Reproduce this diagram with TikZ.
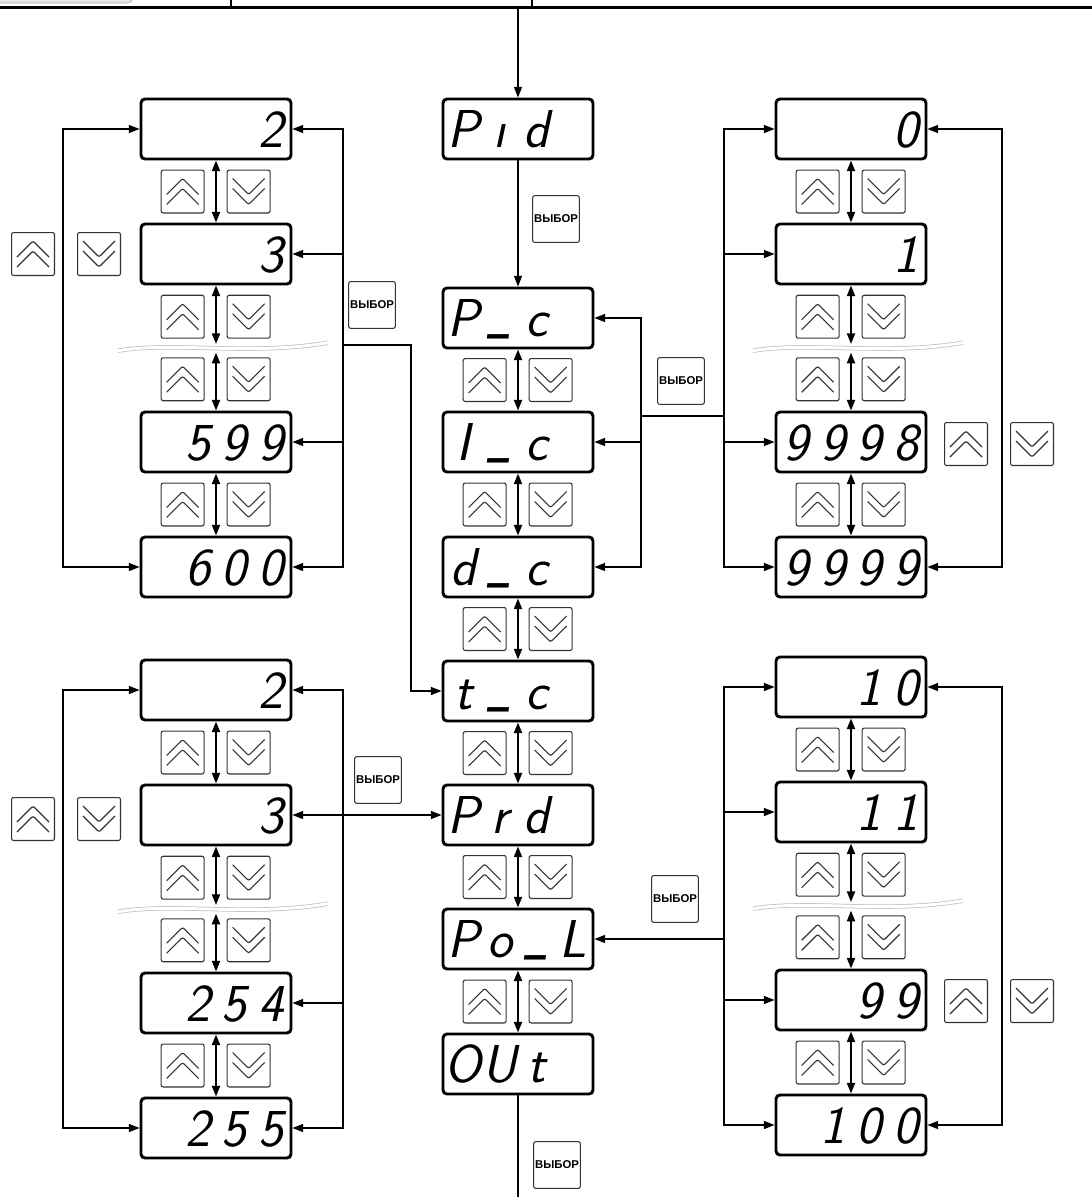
\documentclass[tikz,border=0pt]{standalone}
\usepackage{fontspec}
\newfontfamily\keyfont{Liberation Sans}
\usetikzlibrary{arrows.meta, calc}
\newcommand\lcd[4]{\makebox[27.4pt]{#1}\makebox[27.4pt]{#2}\makebox[27.4pt]{#3}\makebox[27.4pt]{#4}}
\newcommand\lo{\raisebox{0.13em}{\scalebox{0.65}[1.1]{\_}}}
\tikzset{
    >={Triangle[length=8pt, width=6pt]},
    lcd/.style={draw, line width=2.2pt, rounded corners=3pt, minimum width=112.5pt, minimum height=45pt, inner sep=0pt, text height=28pt, text depth=0pt, font=\sffamily\slshape\fontsize{40}{40}\selectfont},
    key/.style={draw=black!80, fill=white, line width=0.8pt, rounded corners=1.5pt, minimum size=32.2pt, inner sep=0pt},
    upkey/.style={key, path picture={
        \foreach \dy in {-2.25pt,-9.75pt}
            \draw[line width=0.85pt] ([shift={(-12pt,\dy)}]path picture bounding box.center) -- ++(12pt,12pt) -- ++(12pt,-12pt);}},
    dnkey/.style={key, path picture={
        \foreach \dy in {2.25pt,9.75pt}
            \draw[line width=0.85pt] ([shift={(-12pt,\dy)}]path picture bounding box.center) -- ++(12pt,-12pt) -- ++(12pt,12pt);}},
    selkey/.style={key, minimum size=35pt, font=\keyfont\bfseries\fontsize{8.5}{8.5}\selectfont},
    link/.style={line width=1pt, ->},
    bus/.style={line width=1pt, line cap=rect},
    updown/.style={line width=1.5pt, <->},
    wave/.style={draw=gray!50, line width=0.55pt, double=white, double distance=2.2pt},
}

\begin{document}
\begin{tikzpicture}[x=0.75pt, y=-0.75pt]
    \useasboundingbox (0,0) rectangle (1092,1197);
    % header strip
    \draw[gray!70, fill=gray!20, rounded corners=4pt] (-10,-20) rectangle (133,3);
    \draw[line width=1pt] (231,0) -- (231,8) (532,0) -- (532,8);
    \draw[line width=2pt] (0,7.5) -- (1092,7.5);

    % main menu
    \node[lcd] (pid) at (518,129) {\lcd{P}{ı}{d}{}};
    \node[lcd] (pc) at (518,318) {\lcd{P}{\lo}{c}{}};
    \node[lcd] (ic) at (518,442) {\lcd{I}{\lo}{c}{}};
    \node[lcd] (dc) at (518,567) {\lcd{d}{\lo}{c}{}};
    \node[lcd] (tc) at (518,691) {\lcd{t}{\lo}{c}{}};
    \node[lcd] (prd) at (518,815) {\lcd{P}{r}{d}{}};
    \node[lcd] (pol) at (518,939) {\lcd{P}{o}{\lo}{L}};
    \node[lcd] (out) at (518,1064) {\lcd{O}{U}{t}{}};
    \coordinate (entry) at (518,7.5);
    \coordinate (exit) at (518,1197);
    \draw[link] (entry) -- (pid);
    \draw[link] (pid) -- (pc);
    \draw[line width=1pt] (out) -- (exit);
    \foreach \a/\b in {pc/ic, ic/dc, dc/tc, tc/prd, prd/pol, pol/out} {
        \draw[updown] (\a) -- (\b);
        \path (\a) -- (\b) node[midway, xshift=-25pt, upkey] (\a-up) {} node[midway, xshift=24.5pt, dnkey] (\a-dn) {};
    }

    % value lists
    \node[lcd] (tl1) at (216,129) {\lcd{}{}{}{2}};
    \node[lcd] (tl2) at (216,254) {\lcd{}{}{}{3}};
    \node[lcd] (tl3) at (216,442) {\lcd{}{5}{9}{9}};
    \node[lcd] (tl4) at (216,567) {\lcd{}{6}{0}{0}};
    \node[lcd] (tr1) at (851,129) {\lcd{}{}{}{0}};
    \node[lcd] (tr2) at (851,254) {\lcd{}{}{}{1}};
    \node[lcd] (tr3) at (851,442) {\lcd{9}{9}{9}{8}};
    \node[lcd] (tr4) at (851,567) {\lcd{9}{9}{9}{9}};
    \node[lcd] (bl1) at (216,690) {\lcd{}{}{}{2}};
    \node[lcd] (bl2) at (216,815) {\lcd{}{}{}{3}};
    \node[lcd] (bl3) at (216,1003) {\lcd{}{2}{5}{4}};
    \node[lcd] (bl4) at (216,1128) {\lcd{}{2}{5}{5}};
    \node[lcd] (br1) at (851,687) {\lcd{}{}{1}{0}};
    \node[lcd] (br2) at (851,812) {\lcd{}{}{1}{1}};
    \node[lcd] (br3) at (851,1000) {\lcd{}{}{9}{9}};
    \node[lcd] (br4) at (851,1125) {\lcd{}{1}{0}{0}};
    \foreach \g in {tl,tr,bl,br} {
        \coordinate (\g-w) at ($(\g2)!0.5!(\g3)$);
        \draw[wave] ([shift={(-73.5pt,-2pt)}]\g-w) .. controls ([shift={(-30pt,5pt)}]\g-w) and ([shift={(25pt,-6pt)}]\g-w) .. ([shift={(84pt,4pt)}]\g-w);
        \draw[updown] (\g1) -- (\g2);
        \draw[updown] (\g2) -- ([yshift=3pt]\g-w);
        \draw[updown] ([yshift=-3.5pt]\g-w) -- (\g3);
        \draw[updown] (\g3) -- (\g4);
        \path (\g1) -- (\g2) node[midway, xshift=-25pt, upkey] (\g-u1) {} node[midway, xshift=24.5pt, dnkey] (\g-d1) {};
        \node[upkey, xshift=-25pt] (\g-u2) at ($(\g2.south)!0.5!(\g-w)$) {};
        \node[dnkey, xshift=24.5pt] (\g-d2) at ($(\g2.south)!0.5!(\g-w)$) {};
        \node[upkey, xshift=-25pt] (\g-u3) at ($(\g-w)!0.5!(\g3.north)$) {};
        \node[dnkey, xshift=24.5pt] (\g-d3) at ($(\g-w)!0.5!(\g3.north)$) {};
        \path (\g3) -- (\g4) node[midway, xshift=-25pt, upkey] (\g-u4) {} node[midway, xshift=24.5pt, dnkey] (\g-d4) {};
    }

    % buses
    \coordinate (busA) at (63,0);
    \coordinate (busB) at (343,0);
    \coordinate (busT) at (411,0);
    \coordinate (busM) at (641,0);
    \coordinate (busC) at (724,0);
    \coordinate (busD) at (1002,0);
    \foreach \g in {tl,bl} {
        \draw[bus] (\g1 -| busA) -- (\g4 -| busA);
        \draw[link] (\g1 -| busA) -- (\g1.west);
        \draw[link] (\g4 -| busA) -- (\g4.west);
        \draw[bus] (\g1 -| busB) -- (\g4 -| busB);
        \foreach \i in {1,...,4} \draw[link] (\g\i -| busB) -- (\g\i.east);
    }
    \foreach \g in {tr,br} {
        \draw[bus] (\g1 -| busC) -- (\g4 -| busC);
        \foreach \i in {1,...,4} \draw[link] (\g\i -| busC) -- (\g\i.west);
        \draw[bus] (\g1 -| busD) -- (\g4 -| busD);
        \draw[link] (\g1 -| busD) -- (\g1.east);
        \draw[link] (\g4 -| busD) -- (\g4.east);
    }
    \coordinate (tlj) at (343,345);
    \draw[link] (tlj) -| (busT |- tc) -- (tc.west);
    \draw[link] (bl2 -| busB) -- (prd.west);
    \draw[bus] (pc -| busM) -- (dc -| busM);
    \foreach \n in {pc,ic,dc} \draw[link] (\n -| busM) -- (\n.east);
    \coordinate (trj) at (641,416);
    \draw[bus] (trj) -- (trj -| busC);
    \draw[link] (pol -| busC) -- (pol.east);

    % keys beside the lists
    \node[upkey] (tlup) at (33,254) {};
    \node[dnkey] (tldn) at (99,254) {};
    \node[upkey] (blup) at (33,819) {};
    \node[dnkey] (bldn) at (99,819) {};
    \node[upkey] (trup) at (966,444) {};
    \node[dnkey] (trdn) at (1032,444) {};
    \node[upkey] (brup) at (966,1001) {};
    \node[dnkey] (brdn) at (1032,1001) {};
    \node[selkey] (sel0) at (556,219) {ВЫБОР};
    \node[selkey] (sel1) at (372,305) {ВЫБОР};
    \node[selkey] (sel2) at (681,381) {ВЫБОР};
    \node[selkey] (sel3) at (378,780) {ВЫБОР};
    \node[selkey] (sel4) at (675,899) {ВЫБОР};
    \node[selkey] (sel5) at (557,1165) {ВЫБОР};
\end{tikzpicture}
\end{document}
